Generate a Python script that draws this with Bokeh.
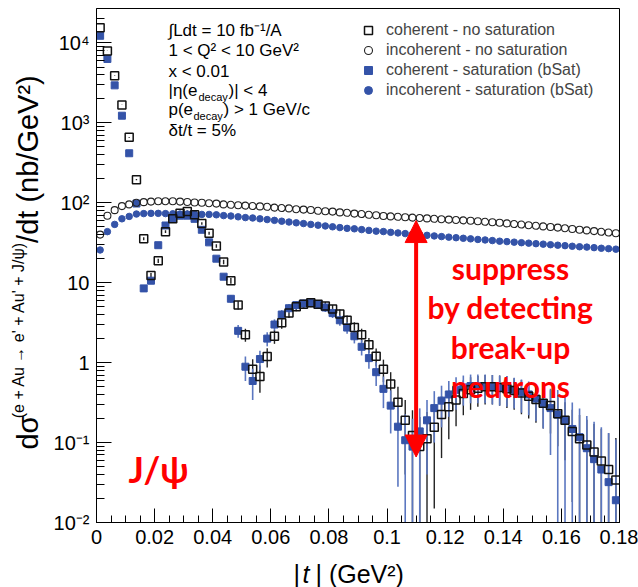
import numpy as np
from math import pi
from bokeh.plotting import figure
from bokeh.layouts import row, column
from bokeh.models import (FixedTicker, CustomJSTickFormatter, Label, Legend, LegendItem,
                          Arrow, NormalHead, Range1d)
from bokeh.embed import file_html
from bokeh.resources import INLINE

# ---------------------------------------------------------------- data
# |t| histogram: 72 bins of 0.0025 GeV^2 between 0 and 0.18 GeV^2
t_min, t_max, n_bins = 0.0, 0.18, 72
t_edges = np.linspace(t_min, t_max, n_bins + 1)
t_centres = 0.5 * (t_edges[:-1] + t_edges[1:])

# coherent - no saturation (nb/GeV^2)
coh_nosat = [15500, 7940, 3890, 1680, 660, 195, 35.5, 12.3, 18.8, 43.6,
             63, 74, 77.6, 70.8, 55, 41.7, 28.8, 18.2, 10.6, 5.25,
             2.24, 0.83, 0.67, 1.19, 2.14, 3.16, 4.17, 5.0, 5.37, 5.62,
             5.37, 5.13, 4.68, 4.07, 3.39, 2.75, 2.24, 1.68, 1.2, 0.83,
             0.54, 0.32, 0.19, 0.123, 0.089, 0.112, 0.155, 0.224, 0.28, 0.34,
             0.41, 0.457, 0.48, 0.50, 0.50, 0.49, 0.47, 0.447, 0.417, 0.38,
             0.347, 0.31, 0.29, 0.23, 0.19, 0.138, 0.112, 0.093, 0.076, 0.059,
             0.046, 0.034]
coh_nosat_err = [35, 25, 17, 11, 7, 3.7, 1.6, 0.95, 1.15, 1.8,
                 2.1, 2.3, 2.4, 2.3, 2.0, 1.75, 1.45, 1.15, 0.9, 0.62,
                 0.42, 0.27, 0.25, 0.32, 0.42, 0.5, 0.55, 0.6, 0.62, 0.63,
                 0.62, 0.6, 0.58, 0.55, 0.5, 0.45, 0.42, 0.36, 0.3, 0.26,
                 0.22, 0.18, 0.15, 0.13, 0.12, 0.13, 0.14, 0.16, 0.17, 0.18,
                 0.19, 0.2, 0.2, 0.2, 0.2, 0.2, 0.2, 0.19, 0.19, 0.18,
                 0.17, 0.16, 0.16, 0.14, 0.13, 0.12, 0.11, 0.1, 0.095, 0.09,
                 0.085, 0.08]

# incoherent - no saturation
inc_nosat = [40, 69, 81, 91, 95.5, 100, 102, 103.5, 104.7, 104.7,
             104.7, 103.5, 102.3, 101, 100, 98.9, 97.7, 95.5, 94.4, 93.3,
             92.3, 91.2, 90.2, 89.1, 87.1, 86.1, 85.1, 83.2, 82.2, 81.3,
             79.4, 78.5, 77.6, 75.9, 75, 73.3, 72.4, 70.8, 70, 68.4,
             67.6, 66.8, 66.1, 65.3, 64.6, 63.8, 63.1, 62.4, 61.7, 61,
             60.3, 59.6, 58.9, 57.9, 57.1, 56.2, 55.3, 54.3, 53.5, 52.5,
             51.6, 50.7, 49.9, 49, 48.1, 47.1, 46.1, 45.2, 44.3, 43.4,
             42.5, 41.7]

# coherent - saturation (bSat)
coh_sat = [12300, 6310, 2950, 1230, 417, 98, 8.5, 10.6, 29.5, 52,
           63, 69, 69, 63, 46, 32, 20, 11.9, 6.3, 2.5,
           0.89, 0.59, 1.11, 2.0, 3.0, 4.0, 4.8, 5.25, 5.5, 5.56,
           5.37, 4.9, 4.17, 3.39, 2.75, 2.14, 1.58, 1.14, 0.76, 0.47,
           0.29, 0.158, 0.107, 0.089, 0.138, 0.19, 0.27, 0.335, 0.40, 0.457,
           0.49, 0.51, 0.51, 0.51, 0.50, 0.49, 0.48, 0.457, 0.427, 0.40,
           0.355, 0.31, 0.27, 0.224, 0.186, 0.148, 0.117, 0.085, 0.062, 0.046,
           0.032, 0.019]
coh_sat_err = [30, 20, 14, 9, 5, 2.6, 0.8, 0.9, 1.5, 2.0,
               2.1, 2.2, 2.2, 2.1, 1.8, 1.5, 1.2, 0.95, 0.7, 0.45,
               0.3, 0.25, 0.3, 0.4, 0.48, 0.55, 0.6, 0.62, 0.63, 0.63,
               0.62, 0.6, 0.55, 0.5, 0.45, 0.4, 0.35, 0.3, 0.25, 0.2,
               0.16, 0.13, 0.12, 0.11, 0.13, 0.15, 0.17, 0.18, 0.19, 0.2,
               0.2, 0.2, 0.2, 0.2, 0.2, 0.2, 0.2, 0.19, 0.19, 0.18,
               0.17, 0.16, 0.2, 0.23, 0.2, 0.17, 0.15, 0.13, 0.12, 0.11,
               0.1, 0.09]

# incoherent - saturation (bSat)
inc_sat = [25.7, 43.6, 53.7, 63.1, 67.6, 72.4, 73.3, 73.8, 73.8, 73.3,
           72.9, 72.4, 72.4, 72.0, 71.6, 71.6, 70.8, 69.2, 68.4, 66.8,
           65.3, 64.6, 63.1, 61.7, 60.3, 58.9, 57.5, 56.2, 55.0, 53.7,
           52.5, 51.3, 50.1, 49.0, 47.9, 47.3, 46.2, 45.2, 44.2, 43.7,
           42.7, 42.0, 41.2, 40.6, 39.8, 39.2, 38.5, 37.8, 37.2, 36.6,
           36.0, 35.4, 34.8, 34.3, 33.7, 33.1, 32.7, 32.2, 31.7, 31.3,
           30.8, 30.4, 29.9, 29.5, 29.1, 28.6, 28.2, 27.9, 27.5, 27.0,
           26.7, 26.3]

series_labels = ["coherent - no saturation", "incoherent - no saturation",
                 "coherent - saturation (bSat)", "incoherent - saturation (bSat)"]

x_ticks = [0.0, 0.02, 0.04, 0.06, 0.08, 0.10, 0.12, 0.14, 0.16, 0.18]
x_tick_labels = ["0", "0.02", "0.04", "0.06", "0.08", "0.1", "0.12", "0.14", "0.16", "0.18"]
y_ticks = [1e-2, 1e-1, 1, 10, 100, 1e3, 1e4]
y_tick_labels = ["10\u207b\u00b2", "10\u207b\u00b9", "1", "10", "10\u00b2", "10\u00b3", "10\u2074"]

# "suppress" arrow between the incoherent level and the coherent minimum
arrow_t = 0.11
arrow_low = 0.066
arrow_high = 60

# ---------------------------------------------------------------- page geometry
W, H = 638, 587
LEFT_STRIP = 48          # strip holding the rotated y title
BOTTOM_STRIP = 30        # strip holding the x title
F_LEFT, F_RIGHT, F_TOP, F_BOTTOM = 96, 619, 8, 522
FONT = "Liberation Sans"

MAIN_W, MAIN_H = W - LEFT_STRIP, H - BOTTOM_STRIP

p = figure(width=MAIN_W, height=MAIN_H, y_axis_type="log",
           x_range=(t_min, t_max), y_range=(1e-2, 2.7e4),
           output_backend="svg", toolbar_location=None,
           min_border_left=F_LEFT - LEFT_STRIP, min_border_right=W - F_RIGHT,
           min_border_top=F_TOP, min_border_bottom=MAIN_H - F_BOTTOM)
p.grid.visible = False
p.outline_line_color = "black"
p.outline_line_width = 1
p.background_fill_color = "white"
p.border_fill_color = "white"

for ax in (p.xaxis[0], p.yaxis[0]):
    ax.major_tick_out = 0
    ax.minor_tick_out = 0
    ax.axis_line_color = "black"
    ax.major_tick_line_color = "black"
    ax.minor_tick_line_color = "black"
    ax.major_label_text_font = FONT
    ax.major_label_text_font_size = "20px"
    ax.major_label_text_color = "black"
p.xaxis.major_tick_in = 14
p.xaxis.minor_tick_in = 7
p.yaxis.major_tick_in = 15
p.yaxis.minor_tick_in = 8
p.xaxis.major_label_standoff = 7
p.yaxis.major_label_standoff = 7

p.xaxis.ticker = FixedTicker(ticks=x_ticks, minor_ticks=[i * 0.005 for i in range(37)])
p.yaxis.ticker = FixedTicker(ticks=y_ticks,
                             minor_ticks=[m * 10.0 ** e for e in range(-2, 5) for m in range(2, 10)])
p.xaxis.formatter = CustomJSTickFormatter(args=dict(tick_vals=x_ticks, tick_text=x_tick_labels), code="""
    let best = 0;
    for (let i = 0; i < tick_vals.length; i++)
        if (Math.abs(tick_vals[i] - tick) < Math.abs(tick_vals[best] - tick)) best = i;
    return tick_text[best];
""")
p.yaxis.formatter = CustomJSTickFormatter(args=dict(tick_text=y_tick_labels),
                                          code="return tick_text[Math.round(Math.log10(tick)) + 2];")

# ---------------------------------------------------------------- marks
BLUE = "#3453a8"
BLUE_BAR = "#5b77c0"

def bar_ends(vals, errs):
    v = np.asarray(vals, float)
    e = np.asarray(errs, float)
    return np.clip(v - e, 1e-4, None), v + e

lo, hi = bar_ends(coh_nosat, coh_nosat_err)
p.segment(x0=t_centres, y0=lo, x1=t_centres, y1=hi, line_color="#222222", line_width=1.4)
lo, hi = bar_ends(coh_sat, coh_sat_err)
p.segment(x0=t_centres, y0=lo, x1=t_centres, y1=hi, line_color=BLUE_BAR, line_width=1.6)

r_coh_sat = p.scatter(t_centres, coh_sat, marker="square", size=7,
                      fill_color=BLUE, line_color=BLUE, line_width=1)
r_inc_sat = p.scatter(t_centres, inc_sat, marker="circle", size=6.5,
                      fill_color=BLUE, line_color=BLUE, line_width=1)
r_inc_nosat = p.scatter(t_centres, inc_nosat, marker="circle", size=7,
                        fill_color=None, line_color="#222222", line_width=1.1)
r_coh_nosat = p.scatter(t_centres, coh_nosat, marker="square", size=8,
                        fill_color=None, line_color="#111111", line_width=1.5)

legend = Legend(items=[LegendItem(label=series_labels[0], renderers=[r_coh_nosat]),
                       LegendItem(label=series_labels[1], renderers=[r_inc_nosat]),
                       LegendItem(label=series_labels[2], renderers=[r_coh_sat]),
                       LegendItem(label=series_labels[3], renderers=[r_inc_sat])],
                location=(262, 422), border_line_color=None, background_fill_alpha=0,
                padding=0, margin=0, spacing=0, glyph_width=20, glyph_height=20,
                label_height=20, label_standoff=8,
                label_text_font=FONT, label_text_font_size="16px")
p.add_layout(legend)

p.add_layout(Arrow(x_start=arrow_t, y_start=arrow_low, x_end=arrow_t, y_end=arrow_high,
                   line_color="red", line_width=4,
                   start=NormalHead(size=22, fill_color="red", line_color="red", line_width=1),
                   end=NormalHead(size=22, fill_color="red", line_color="red", line_width=1)))

# ---------------------------------------------------------------- texts inside the frame
def put(text, cx, cy, size, color="black", font=FONT, style="normal", align="left",
        baseline="middle", angle=0.0):
    """Place a text at page pixel (cx, cy) inside the plot frame, y from the top."""
    p.add_layout(Label(x=cx - F_LEFT, y=F_BOTTOM - cy, x_units="screen", y_units="screen",
                       text=text, text_font=font, text_font_size=f"{size}px",
                       text_font_style=style, text_color=color, text_align=align,
                       text_baseline=baseline, angle=angle))

# information block
put("\u222bLdt = 10 fb\u207b\u00b9/A", 168, 30, 17)
put("1 < Q\u00b2 < 10 GeV\u00b2", 168, 50, 17)
put("x < 0.01", 168, 71, 17)
put("|\u03b7(e", 168, 90, 17)
put("decay", 198, 96, 11)
put(")| < 4", 228, 90, 17)
put("p(e", 168, 109, 17)
put("decay", 193, 115, 11)
put(") > 1 GeV/c", 223, 109, 17)
put("\u03b4t/t = 5%", 168, 130, 17)

# annotations in red
RED_FONT = "Lato"
put("J/\u03c8", 128, 468, 36, color="red", font=RED_FONT, style="bold", baseline="alphabetic")
for line, base in zip(["suppress", "by detecting", "break-up", "neutrons"], [267, 306, 346, 385]):
    put(line, 510, base, 30, color="red", font=RED_FONT, style="bold", align="center",
        baseline="alphabetic")

# ---------------------------------------------------------------- axis titles (side strips)
def text_strip(width, height, x0, y0):
    """Blank panel whose data coordinates are page pixels (y grows downwards)."""
    s = figure(width=width, height=height, x_range=Range1d(x0, x0 + width),
               y_range=Range1d(y0 + height, y0), output_backend="svg",
               toolbar_location=None, min_border=0,
               min_border_left=0, min_border_right=0, min_border_top=0, min_border_bottom=0,
               x_axis_location=None, y_axis_location=None)
    s.grid.visible = False
    s.outline_line_color = None
    s.background_fill_color = "white"
    s.border_fill_color = "white"
    return s

def strip_text(s, text, cx, cy, size, style="normal", angle=0.0):
    s.add_layout(Label(x=cx, y=cy, text=text, text_font=FONT, text_font_size=f"{size}px",
                       text_font_style=style, text_color="black", text_align="left",
                       text_baseline="middle", angle=angle))

left = text_strip(LEFT_STRIP, MAIN_H, 0, 0)
strip_text(left, "d\u03c3", 27, 478, 29, angle=pi / 2)
strip_text(left, "(e + Au \u2192 e' + Au' + J/\u03c8)", 18, 444, 16, angle=pi / 2)
strip_text(left, "/dt (nb/GeV\u00b2)", 27, 254, 29, angle=pi / 2)

bottom = text_strip(W, BOTTOM_STRIP, 0, MAIN_H)
strip_text(bottom, "|", 293, 573, 25)
strip_text(bottom, "t", 302, 573, 25, style="italic")
strip_text(bottom, "| (GeV\u00b2)", 315, 573, 25)

page = column(row(left, p, spacing=0), bottom, spacing=0)
open("out.html", "w").write(file_html(page, INLINE))
